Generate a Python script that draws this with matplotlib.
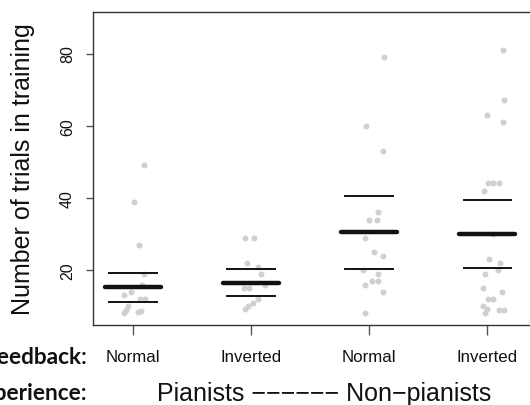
import numpy as np
import matplotlib
matplotlib.use('Agg')
import matplotlib.pyplot as plt

plt.rcParams['font.family'] = ['Liberation Sans', 'DejaVu Sans']

# x tick labels and the two category rows
feedback = ['Normal', 'Inverted', 'Normal', 'Inverted']

# trials per participant, with the horizontal jitter seen
pn_vals = [49, 39, 27, 19, 16, 14, 13, 12, 12, 10, 9, 8, 8.4, 8.8]
pn_jit = [0.093, 0.008, 0.05, 0.093, 0.08, -0.014, -0.079, 0.057, 0.099, -0.042, -0.056, -0.079, 0.043, 0.071]

pi_vals = [29, 29, 22, 21, 19, 15, 15, 16, 12, 11, 10, 9.2]
pi_jit = [-0.05, 0.028, -0.036, 0.062, 0.085, -0.059, -0.014, 0.119, 0.062, 0.019, -0.023, -0.051]

nn_vals = [79, 60, 53, 36, 34, 34, 29, 25, 24, 20, 19, 17, 17, 16, 14, 8]
nn_jit = [0.127, -0.028, 0.116, 0.074, 0.003, 0.068, -0.034, 0.045, 0.116, -0.048, 0.074, 0.028, 0.074, -0.034, 0.116, -0.034]

ni_vals = [81, 67, 63, 61, 44, 44, 44, 42, 30, 23, 22, 20, 19, 15, 14, 12, 12, 10, 9.2, 8, 9, 9]
ni_jit = [0.136, 0.147, 0.0, 0.136, 0.008, 0.054, 0.099, -0.025, 0.05, 0.017, 0.113, 0.088, -0.022, -0.034, 0.127, 0.008, 0.046, -0.034, -0.005, -0.02, 0.1, 0.144]

groups_vals = [pn_vals, pi_vals, nn_vals, ni_vals]
groups_jit = [pn_jit, pi_jit, nn_jit, ni_jit]

# centre line and the two thin lines per group
centre = [15.2, 16.5, 30.5, 30.0]
upper = [19.2, 20.4, 40.6, 39.5]
lower = [11.3, 12.7, 20.3, 20.5]

fig = plt.figure(figsize=(5.3, 4.06), dpi=100)
ax = fig.add_axes([0.1755, 0.197, 0.828, 0.771])

for i, (vals, jit) in enumerate(zip(groups_vals, groups_jit)):
    pos = i + 1
    ax.plot(pos + np.array(jit), vals, 'o', ms=4.3, color='#d0d0d0', mec='none', zorder=1)
    ax.plot([pos - 0.235, pos + 0.235], [centre[i]] * 2, color='#111111', lw=3.2,
            solid_capstyle='round', zorder=3)
    for v in (upper[i], lower[i]):
        ax.plot([pos - 0.2, pos + 0.2], [v, v], color='#111111', lw=1.4, zorder=3)

ax.set_xlim(0.661, 4.379)
ax.set_ylim(4.8, 91.5)
ax.set_xticks([1, 2, 3, 4])
ax.set_xticklabels(feedback)
ax.set_yticks([20, 40, 60, 80])
ax.tick_params(axis='x', length=7, width=1, color='#555555', pad=10, labelsize=12.2, labelcolor='#111111')
ax.tick_params(axis='y', length=5, width=1, color='#555555', pad=8, labelsize=11.5,
               labelrotation=90, labelcolor='#111111')
for t in ax.get_yticklabels():
    t.set_va('center')
for s in ax.spines.values():
    s.set_color('#333333')
    s.set_linewidth(1.0)

fig.text(23 / 530, 1 - 169.5 / 406, 'Number of trials in training', rotation=90,
         ha='center', va='center', fontsize=18, color='#111111')

fig.text(87 / 530, 1 - 358 / 406, 'Feedback:', ha='right', va='center', fontsize=16.3,
         fontweight='bold', family=['Lato', 'DejaVu Sans'], color='#111111')
fig.text(87 / 530, 1 - 394 / 406, 'Experience:', ha='right', va='center', fontsize=16.3,
         fontweight='bold', family=['Lato', 'DejaVu Sans'], color='#111111')
fig.text(324 / 530, 1 - 394 / 406, 'Pianists \u2212\u2212\u2212\u2212\u2212\u2212 Non\u2212pianists',
         ha='center', va='center', fontsize=18, color='#111111')

fig.savefig('out.png', dpi=100)
